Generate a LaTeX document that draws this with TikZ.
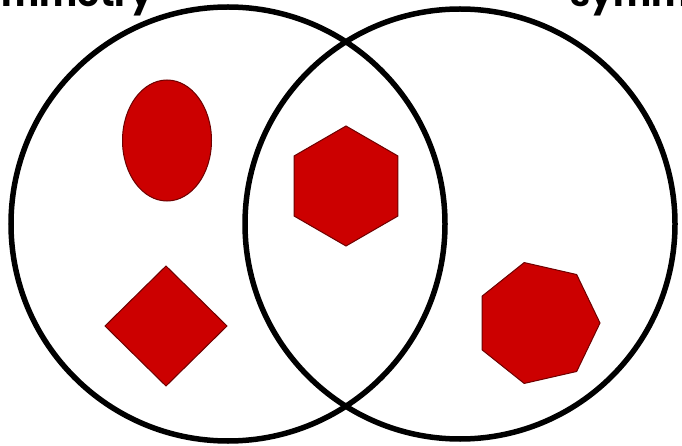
\documentclass[tikz,border=0pt]{standalone}
\usepackage{fontspec}
\setmainfont{Poppins}
\usetikzlibrary{shapes.geometric}
\definecolor{shapered}{RGB}{204,0,0}
\definecolor{shapeedge}{RGB}{110,0,0}
\tikzset{
  ring/.style={circle, draw=black, line width=5.5pt, inner sep=0pt, outer sep=0pt, minimum size=#1},
  redshape/.style={fill=shapered, draw=shapeedge, line width=1pt, inner sep=0pt, outer sep=0pt},
  title/.style={font=\bfseries\fontsize{36}{36}\selectfont, inner sep=0pt}
}
\begin{document}
\begin{tikzpicture}[x=1pt,y=-1pt]
\useasboundingbox (0,0) rectangle (682,446);
\clip (0,0) rectangle (682,446);
\fill[white] (0,0) rectangle (682,446);
\node[title, anchor=base east] (tleft) at (153,7) {symmetry};
\node[title, anchor=base west] (tright) at (570,7) {symmetry};
\node[ring=434pt] (cleft) at (228,224) {};
\node[ring=430pt] (cright) at (460,224) {};
\node[redshape, ellipse, minimum width=89pt, minimum height=121pt] (oval) at (167,140.5) {};
\node[redshape, regular polygon, regular polygon sides=6, regular polygon rotate=30, minimum size=120pt] (hex) at (346,186) {};
\node[redshape, diamond, minimum width=122pt, minimum height=120pt] (dia) at (166,326) {};
\node[redshape, regular polygon, regular polygon sides=7, regular polygon rotate=-90, minimum size=124pt] (hept) at (538,323) {};
\end{tikzpicture}
\end{document}
